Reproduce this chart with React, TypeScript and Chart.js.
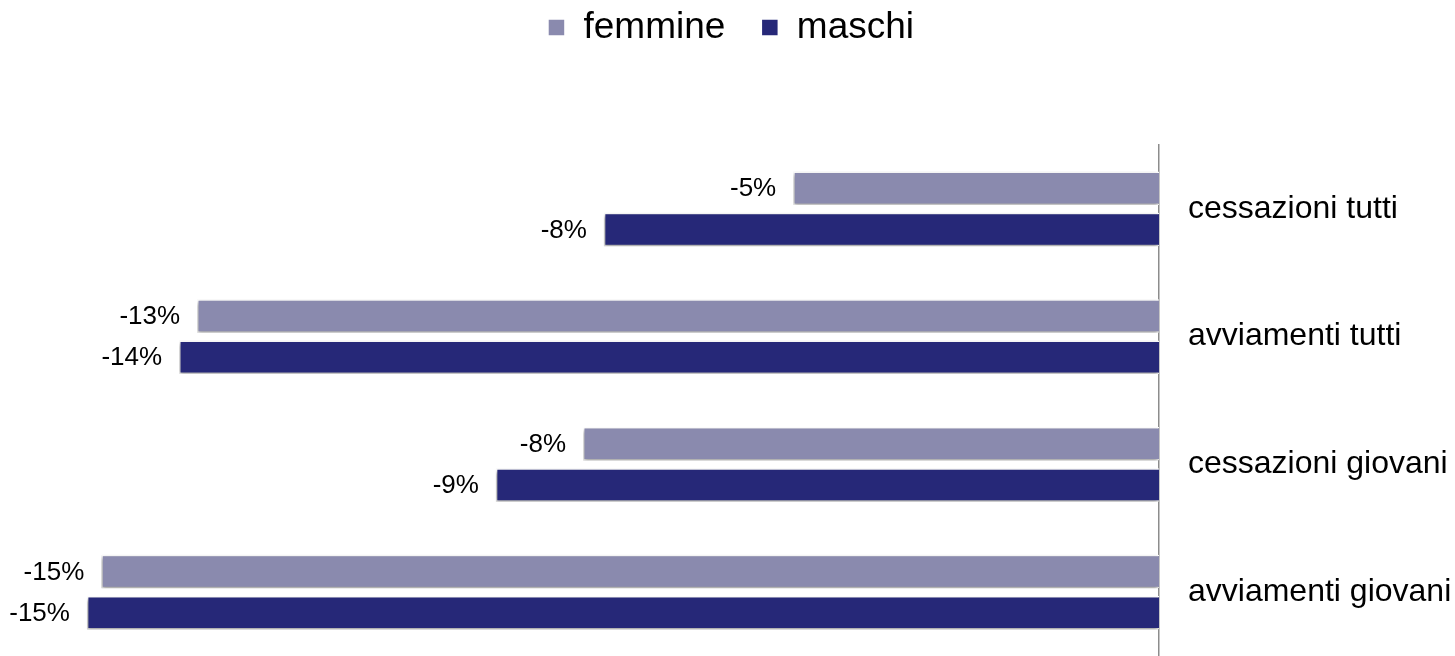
import React, { useEffect, useRef } from "react";
import { Chart, registerables } from "chart.js";

Chart.register(...registerables);

const categories = [
  "cessazioni tutti",
  "avviamenti tutti",
  "cessazioni giovani",
  "avviamenti giovani",
];
const femmine = [-5.08, -13.36, -8.0, -14.69];
const maschi = [-7.71, -13.61, -9.21, -14.89];
const seriesNames = ["femmine", "maschi"];
const xMin = -16;
const xMax = 0;

const FONT = "'Liberation Sans', Arial, Helvetica, sans-serif";

const shadowPlugin = {
  id: "barShadow",
  beforeDatasetsDraw(chart: any) {
    const ctx = chart.ctx;
    ctx.save();
    ctx.shadowColor = "rgba(0,0,0,0.4)";
    ctx.shadowBlur = 4;
    ctx.shadowOffsetX = -1;
    ctx.shadowOffsetY = 2;
  },
  afterDatasetsDraw(chart: any) {
    const ctx = chart.ctx;
    ctx.restore();
    ctx.save();
    ctx.font = `26px ${FONT}`;
    ctx.fillStyle = "#000";
    ctx.textAlign = "right";
    ctx.textBaseline = "middle";
    chart.data.datasets.forEach((ds: any, di: number) => {
      const meta = chart.getDatasetMeta(di);
      meta.data.forEach((el: any, i: number) => {
        const v = ds.data[i];
        const txt = `${Math.round(v)}%`;
        ctx.fillText(txt, el.x - 17, el.y + 1);
      });
    });
    ctx.restore();
  },
};

export default function App() {
  const ref = useRef<HTMLCanvasElement>(null);
  useEffect(() => {
    if (!ref.current) return;
    const chart = new Chart(ref.current, {
      type: "bar",
      data: {
        labels: categories,
        datasets: [
          {
            label: seriesNames[0],
            data: femmine,
            backgroundColor: "#8A8AAE",
            borderColor: "#ffffff",
            borderWidth: 1.5,
            categoryPercentage: 0.645,
            barPercentage: 0.81,
          },
          {
            label: seriesNames[1],
            data: maschi,
            backgroundColor: "#262878",
            borderColor: "#ffffff",
            borderWidth: 1.5,
            categoryPercentage: 0.645,
            barPercentage: 0.81,
          },
        ],
      },
      options: {
        indexAxis: "y",
        animation: false,
        responsive: true,
        maintainAspectRatio: false,
        layout: { padding: { left: 7, right: 0, top: -27, bottom: -4 } },
        plugins: {
          legend: {
            display: true,
            position: "top",
            labels: {
              boxWidth: 17,
              boxHeight: 17,
              padding: 36,
              color: "#000",
              font: { family: FONT, size: 37 },
            },
          },
          tooltip: { enabled: false },
        },
        scales: {
          x: {
            type: "linear",
            position: "top",
            min: xMin,
            max: xMax,
            ticks: { display: false },
            grid: { display: false },
            border: { display: false },
            afterFit: (scale: any) => {
              scale.height = 89;
              scale.paddingBottom = -4;
            },
          },
          y: {
            type: "category",
            position: "right",
            grid: { display: false, tickLength: 29 },
            border: { display: true, color: "#8c8c8c", width: 1.5 },
            ticks: {
              padding: 0,
              color: "#000",
              font: { family: FONT, size: 32 },
            },
            afterFit: (scale: any) => {
              scale.width = 296;
              scale.paddingTop = 0;
              scale.paddingBottom = -4;
            },
          },
        },
      },
      plugins: [shadowPlugin],
    });
    return () => chart.destroy();
  }, []);
  return (
    <div
      style={{
        position: "fixed",
        left: 0,
        top: 0,
        width: "1455px",
        height: "656px",
        background: "#fff",
      }}
    >
      <canvas ref={ref} />
    </div>
  );
}
